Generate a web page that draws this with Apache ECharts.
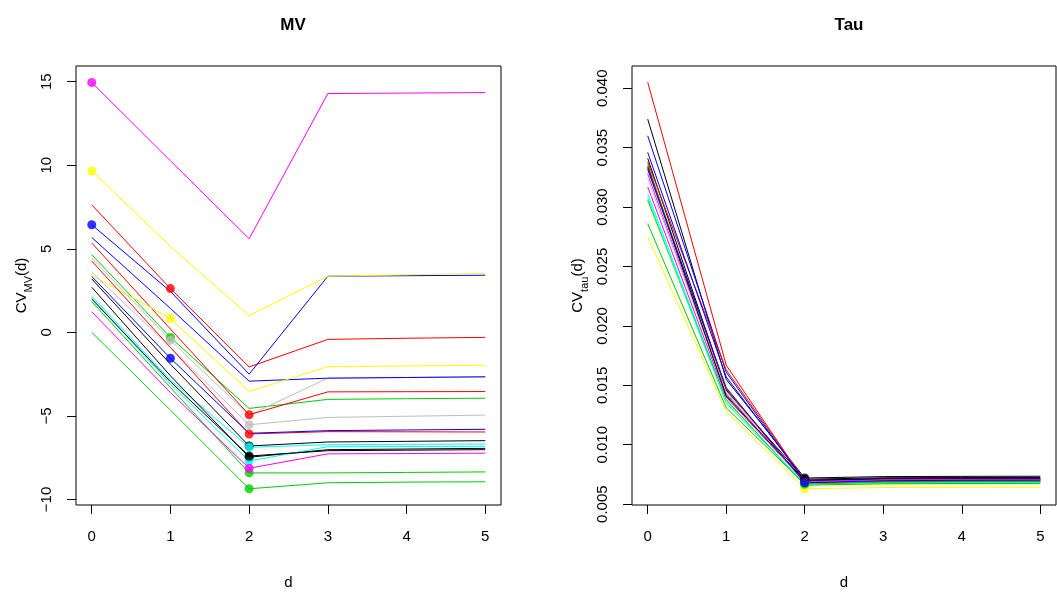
<!DOCTYPE html>
<html>
<head>
<meta charset="utf-8">
<script src="https://cdn.jsdelivr.net/npm/echarts@6/dist/echarts.min.js"></script>
<style>
  html, body { margin: 0; padding: 0; background: #fff; }
  #chart { width: 1057px; height: 595px; }
</style>
</head>
<body>
<div id="chart"></div>
<script>
// d values on the x axis
const dValues = [0, 1, 2, 3, 4, 5];

// R default palette, cycled over the 20 curves
const lineColors = [
  '#000000', '#FF0000', '#00CD00', '#0000FF', '#00FFFF', '#FF00FF', '#FFFF00', '#BEBEBE',
  '#000000', '#FF0000', '#00CD00', '#0000FF', '#00FFFF', '#FF00FF', '#FFFF00', '#BEBEBE',
  '#000000', '#FF0000', '#00CD00', '#0000FF'
];

// CV_MV(d) per curve
const mvValues = [
  [3.20, -1.90, -6.80, -6.56, -6.52, -6.48],
  [7.63, 2.62, -2.07, -0.42, -0.35, -0.30],
  [4.65, -0.30, -4.55, -4.01, -3.97, -3.94],
  [6.44, 2.45, -2.50, 3.36, 3.39, 3.42],
  [2.17, -2.85, -6.88, -6.72, -6.70, -6.68],
  [14.95, 10.27, 5.60, 14.29, 14.32, 14.35],
  [9.66, 5.15, 1.00, 3.36, 3.45, 3.52],
  [4.45, -0.48, -4.95, -2.74, -2.70, -2.66],
  [2.70, -2.60, -7.47, -7.02, -6.98, -6.94],
  [5.35, 0.20, -4.93, -3.56, -3.55, -3.54],
  [1.85, -3.30, -8.41, -8.41, -8.38, -8.35],
  [5.68, 1.43, -2.92, -2.74, -2.70, -2.66],
  [2.05, -3.10, -7.70, -6.84, -6.83, -6.82],
  [1.23, -3.60, -8.13, -7.27, -7.25, -7.23],
  [3.42, 0.83, -3.54, -2.05, -2.01, -1.97],
  [3.60, -0.90, -5.53, -5.09, -5.02, -4.95],
  [2.00, -2.95, -7.40, -7.08, -7.05, -7.02],
  [4.27, -0.90, -6.08, -5.94, -5.95, -5.96],
  [0.00, -4.65, -9.36, -9.00, -8.96, -8.94],
  [3.35, -1.55, -6.04, -5.88, -5.84, -5.80]
];
// index of the marked d for each curve (-1 = none)
const mvPointAt = [2, 1, 1, 0, 2, 0, 0, 1, 2, 2, 2, -1, 2, 2, 1, 2, 2, 2, 2, 1];

// CV_tau(d) per curve
const tauValues = [
  [0.0374, 0.0155, 0.0072, 0.00732, 0.00734, 0.00735],
  [0.0405, 0.0167, 0.0069, 0.00700, 0.00702, 0.00703],
  [0.0336, 0.0143, 0.0068, 0.00692, 0.00694, 0.00695],
  [0.0360, 0.0161, 0.0069, 0.00700, 0.00702, 0.00703],
  [0.0311, 0.0137, 0.0067, 0.00678, 0.00680, 0.00681],
  [0.0328, 0.0142, 0.0070, 0.00712, 0.00714, 0.00715],
  [0.0305, 0.0136, 0.0066, 0.00668, 0.00670, 0.00671],
  [0.0330, 0.0145, 0.0069, 0.00702, 0.00704, 0.00705],
  [0.0341, 0.0146, 0.0071, 0.00722, 0.00724, 0.00725],
  [0.0338, 0.0163, 0.0070, 0.00708, 0.00710, 0.00711],
  [0.0306, 0.0138, 0.0066, 0.00672, 0.00674, 0.00675],
  [0.0346, 0.0157, 0.0070, 0.00710, 0.00712, 0.00713],
  [0.0308, 0.0135, 0.0067, 0.00682, 0.00684, 0.00685],
  [0.0317, 0.0140, 0.0069, 0.00706, 0.00708, 0.00709],
  [0.0275, 0.0128, 0.0063, 0.00640, 0.00642, 0.00643],
  [0.0324, 0.0144, 0.0068, 0.00696, 0.00698, 0.00699],
  [0.0334, 0.0141, 0.0070, 0.00716, 0.00718, 0.00719],
  [0.0333, 0.0147, 0.0068, 0.00690, 0.00692, 0.00693],
  [0.0286, 0.0131, 0.0067, 0.00686, 0.00688, 0.00689],
  [0.0332, 0.0148, 0.0068, 0.00698, 0.00700, 0.00701]
];
const tauPointAt = [2, 2, 2, 2, 2, 2, 2, 2, 2, 2, 2, 2, 2, 2, 2, 2, 2, 2, 2, 2];

// tick labels
const mvTicks = [-10, -5, 0, 5, 10, 15];
const tauTicks = [0.005, 0.010, 0.015, 0.020, 0.025, 0.030, 0.035, 0.040];

const FONT = 'Liberation Sans';

const buildSeries = (values, pointAt, axisIdx) => {
    const out = [];
    values.forEach((row, i) => {
        out.push({
            type: 'line',
            xAxisIndex: axisIdx,
            yAxisIndex: axisIdx,
            data: row.map((v, k) => [dValues[k], v]),
            showSymbol: false,
            silent: true,
            animation: false,
            lineStyle: { color: lineColors[i], width: 1 },
            z: 2
        });
        if (pointAt[i] >= 0) {
            out.push({
                type: 'scatter',
                xAxisIndex: axisIdx,
                yAxisIndex: axisIdx,
                data: [[dValues[pointAt[i]], row[pointAt[i]]]],
                symbol: 'circle',
                symbolSize: 9,
                silent: true,
                animation: false,
                itemStyle: { color: lineColors[i] },
                z: 2
            });
        }
    });
    return out;
};

const xAxisBase = (gridIndex) => ({
    type: 'value',
    gridIndex,
    min: -0.2,
    max: 5.2,
    name: 'd',
    nameLocation: 'middle',
    nameGap: 70,
    nameTextStyle: { fontFamily: FONT, fontSize: 15, color: '#000' },
    axisLine: { show: false, onZero: false },
    splitLine: { show: false },
    axisTick: { show: true, inside: false, length: 9, customValues: dValues, lineStyle: { color: '#000' } },
    axisLabel: { customValues: dValues, margin: 24, fontFamily: FONT, fontSize: 15, color: '#000' }
});

const yName = (sub) => ({
    name: '{a|CV}{s|' + sub + '}{a|(d)}',
    nameLocation: 'middle', nameRotate: 90, nameGap: 47,
    nameTextStyle: {
        rich: {
            a: { fontFamily: FONT, fontSize: 15, color: '#000', lineHeight: 20, verticalAlign: 'bottom' },
            s: { fontFamily: FONT, fontSize: 11, color: '#000', lineHeight: 20, verticalAlign: 'bottom', padding: [0, 0, -5, 0] }
        }
    }
});

const chart = echarts.init(document.getElementById('chart'), null, { renderer: 'canvas' });

chart.setOption({
    backgroundColor: '#fff',
    animation: false,
    title: [
        { text: 'MV', left: 288, top: 12, textAlign: 'center',
          textStyle: { fontFamily: FONT, fontSize: 17, fontWeight: 'bold', color: '#000' } },
        { text: 'Tau', left: 844, top: 12, textAlign: 'center',
          textStyle: { fontFamily: FONT, fontSize: 17, fontWeight: 'bold', color: '#000' } }
    ],
    grid: [
        { left: 76, top: 66, width: 425, height: 440, show: true, borderColor: '#000', borderWidth: 1, backgroundColor: 'transparent' },
        { left: 632, top: 66, width: 424, height: 440, show: true, borderColor: '#000', borderWidth: 1, backgroundColor: 'transparent' }
    ],
    xAxis: [xAxisBase(0), xAxisBase(1)],
    yAxis: [
        {
            type: 'value', gridIndex: 0, min: -10.33, max: 15.94,
            ...yName('MV'),
            axisLine: { show: false, onZero: false },
            splitLine: { show: false },
            axisTick: { show: true, inside: false, length: 9, customValues: mvTicks, lineStyle: { color: '#000' } },
            axisLabel: {
                customValues: mvTicks, rotate: 90, margin: 22,
                fontFamily: FONT, fontSize: 15, color: '#000',
                formatter: (v) => String(v).replace('-', '\u2212')
            }
        },
        {
            type: 'value', gridIndex: 1, min: 0.00493, max: 0.04187,
            ...yName('tau'),
            axisLine: { show: false, onZero: false },
            splitLine: { show: false },
            axisTick: { show: true, inside: false, length: 9, customValues: tauTicks, lineStyle: { color: '#000' } },
            axisLabel: {
                customValues: tauTicks, rotate: 90, margin: 22,
                fontFamily: FONT, fontSize: 15, color: '#000',
                formatter: (v) => v.toFixed(3)
            }
        }
    ],
    series: [
        ...buildSeries(mvValues, mvPointAt, 0),
        ...buildSeries(tauValues, tauPointAt, 1)
    ]
});
</script>
</body>
</html>
